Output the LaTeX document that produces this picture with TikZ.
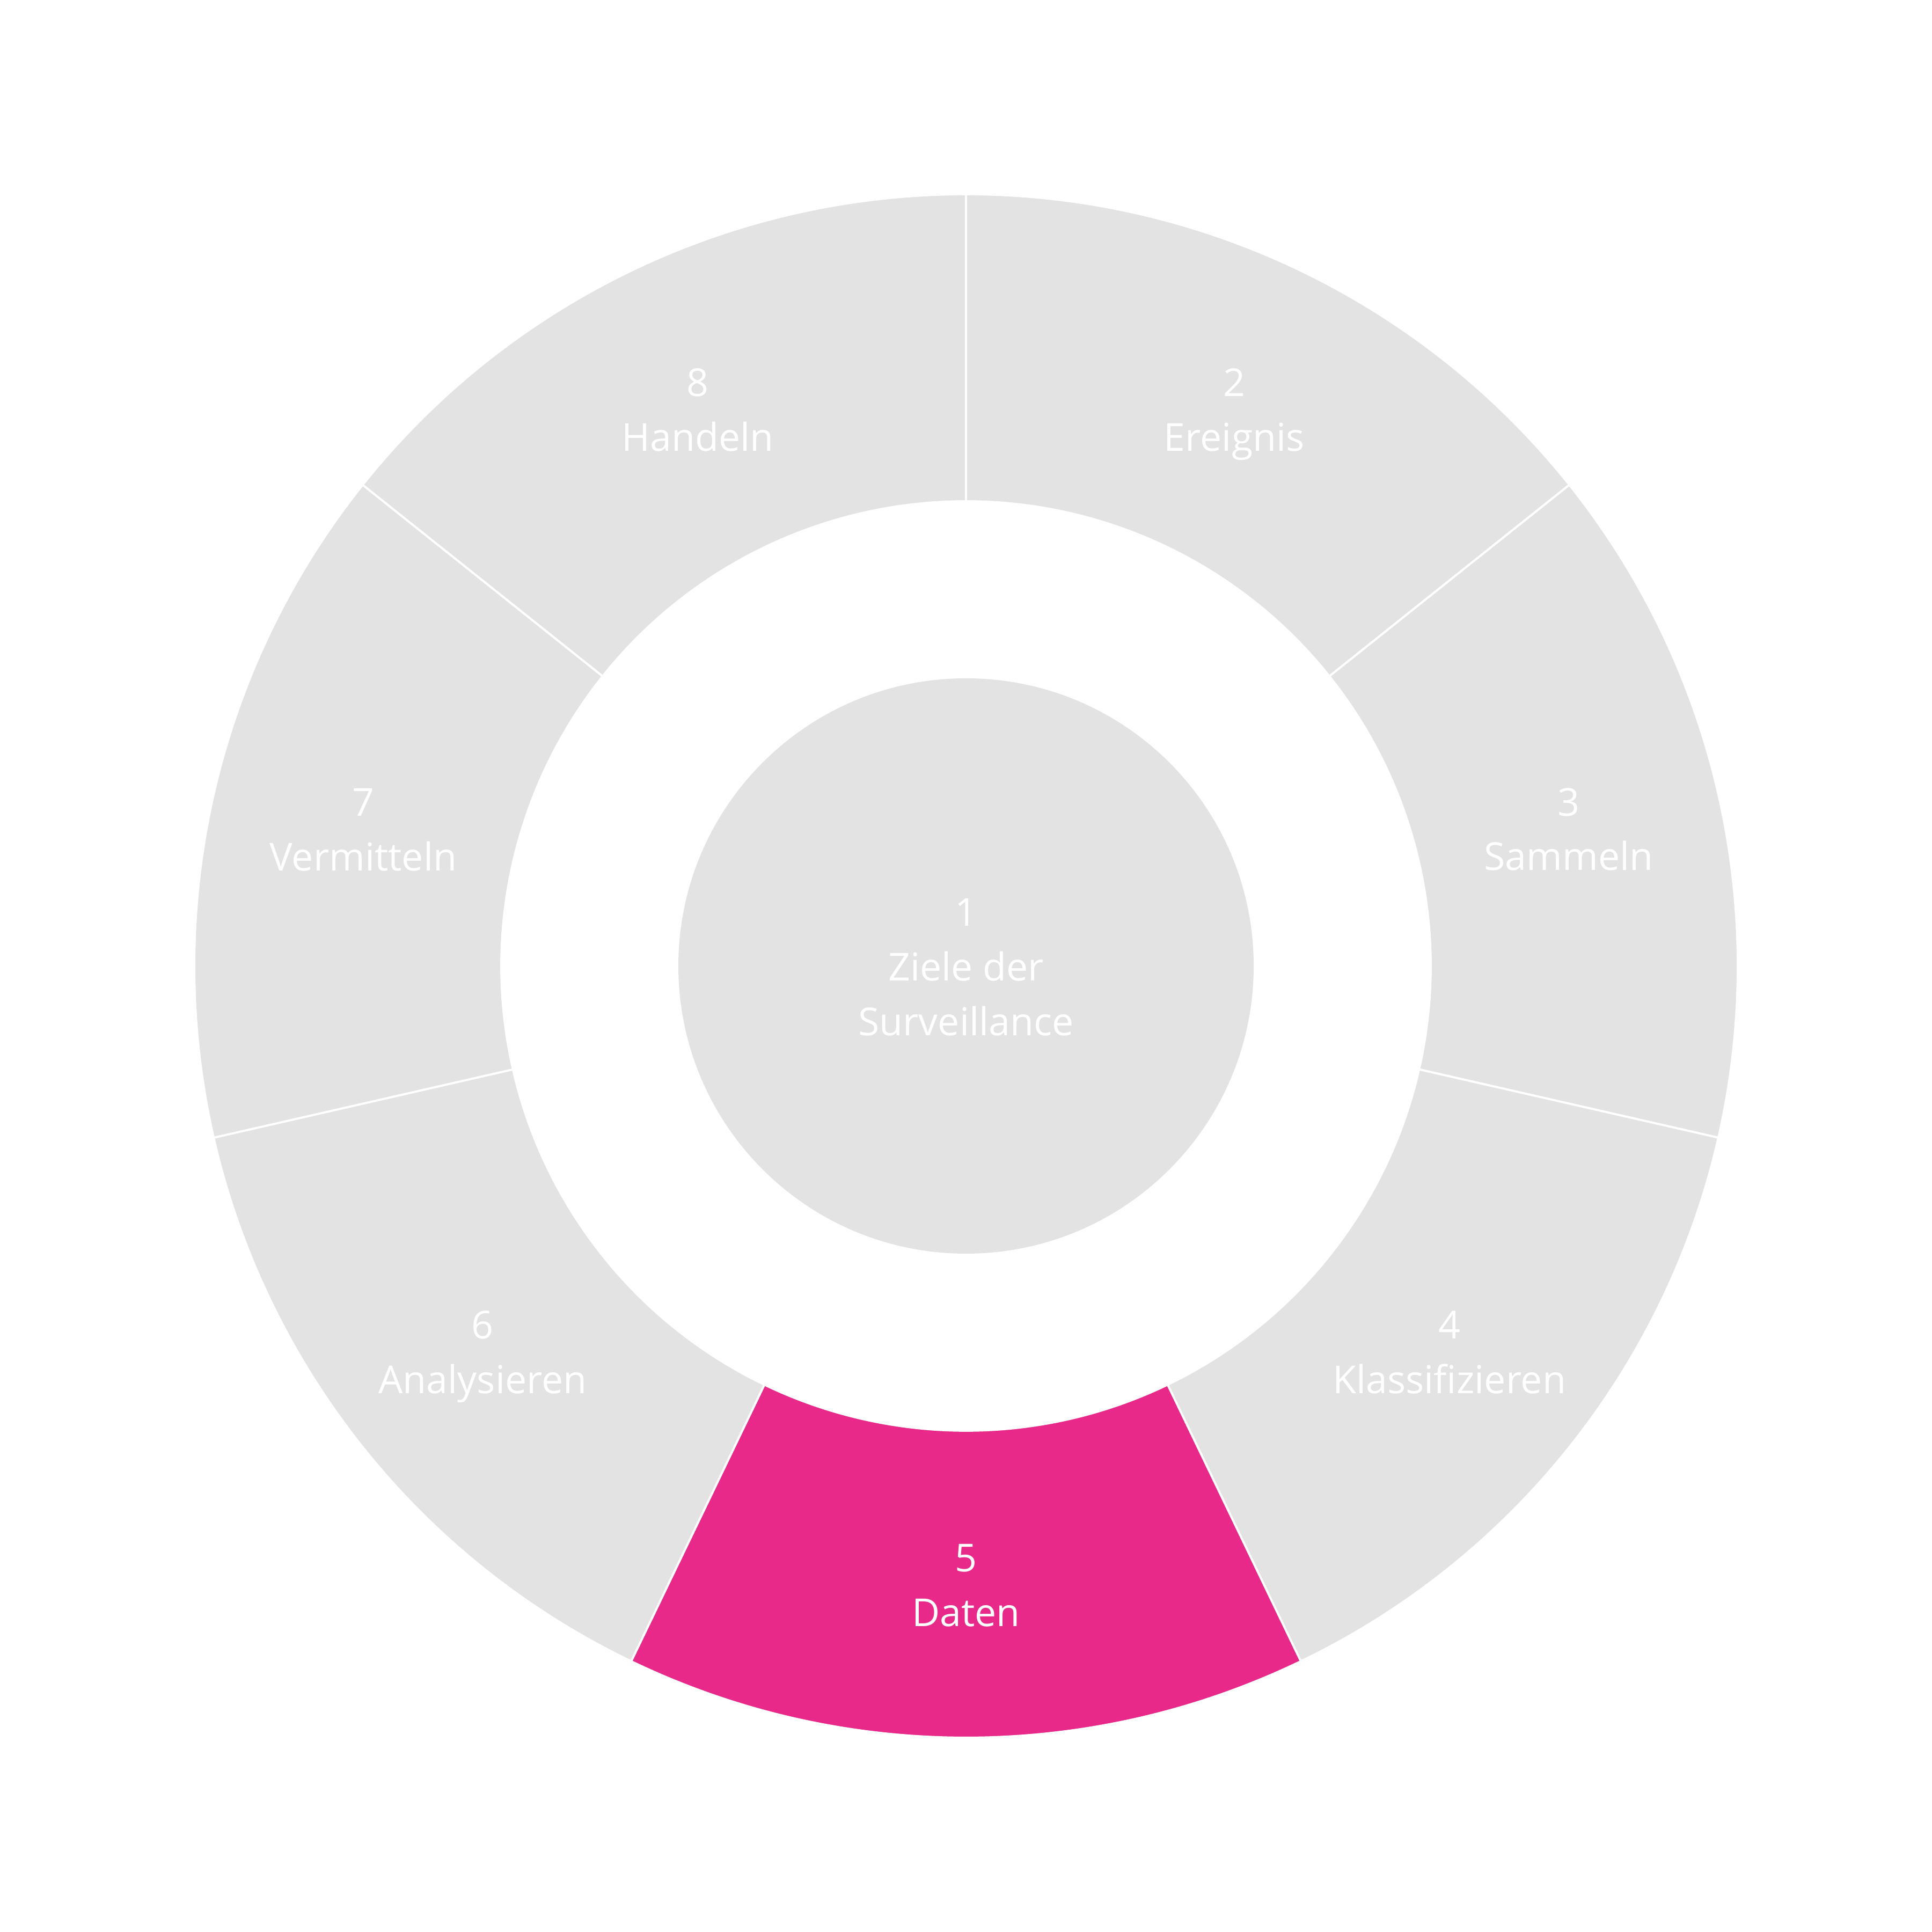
\documentclass[tikz,border=0pt]{standalone}
\usepackage{fontspec}
\setmainfont{Open Sans}
\usetikzlibrary{calc}
\definecolor{seggray}{HTML}{E3E3E3}
\definecolor{hlpink}{HTML}{E8298A}
\tikzset{
  segpart/.style={fill=seggray, draw=white, line width=1.1pt},
  seglabel/.style={text=white, align=center, inner sep=0pt, yshift=-0.07cm, font=\fontsize{20.4}{29}\selectfont},
}
\begin{document}
\begin{tikzpicture}
\useasboundingbox (0,0) rectangle (36,36);
\coordinate (c) at (18,18);
\def\Ro{14.38}
\def\Ri{8.66}
\foreach \k/\txt [count=\i from 0] in {2/Ereignis,3/Sammeln,4/Klassifizieren,5/Daten,6/Analysieren,7/Vermitteln,8/Handeln}{
  \pgfmathsetmacro{\aone}{90-\i*360/7}
  \pgfmathsetmacro{\atwo}{90-(\i+1)*360/7}
  \pgfmathsetmacro{\amid}{90-(\i+0.5)*360/7}
  \ifnum\k=5
    \def\fillc{hlpink}
  \else
    \def\fillc{seggray}
  \fi
  \draw[segpart, fill=\fillc] ($(c)+(\aone:\Ro)$) arc[start angle=\aone, end angle=\atwo, radius=\Ro]
    -- ($(c)+(\atwo:\Ri)$) arc[start angle=\atwo, end angle=\aone, radius=\Ri] -- cycle;
  \node[seglabel] (lab\k) at ($(c)+(\amid:11.52)$) {\strut\k\\\txt\strut};
}
\node[circle, fill=seggray, minimum size=10.72cm, inner sep=0pt] (centre) at (c) {};
\node[seglabel] (lab1) at (centre.center) {\strut1\\Ziele der\\Surveillance\strut};
\end{tikzpicture}
\end{document}
